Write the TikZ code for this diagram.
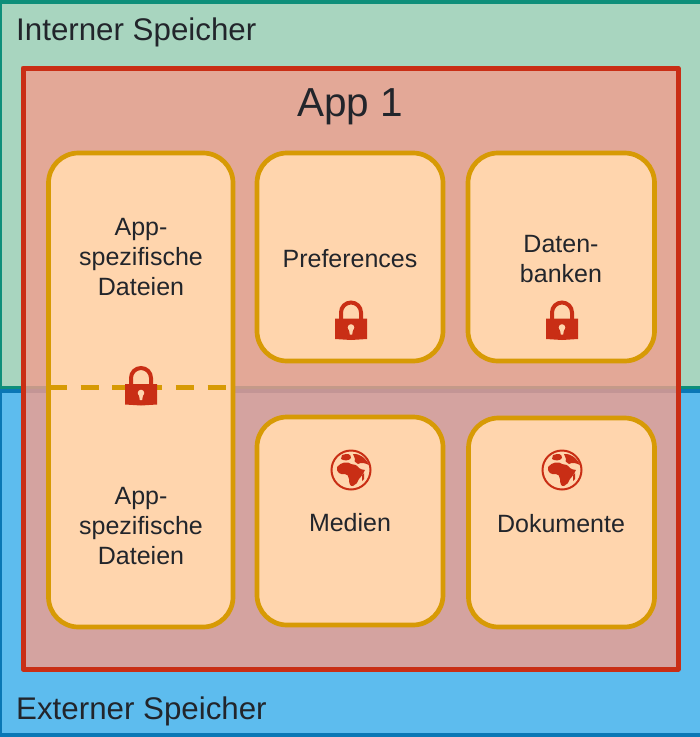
\documentclass[tikz,border=0pt]{standalone}
\usepackage{fontspec}
\setmainfont{Liberation Sans}
\definecolor{gfill}{HTML}{A8D5BF}
\definecolor{gline}{HTML}{0E8F7A}
\definecolor{bfill}{HTML}{5DBCEE}
\definecolor{bline}{HTML}{0A77B5}
\definecolor{rline}{HTML}{C92E15}
\definecolor{rfill}{HTML}{F29D8D}
\definecolor{ofill}{HTML}{FFD5AD}
\definecolor{oline}{HTML}{D79A05}
\definecolor{txt}{HTML}{22252B}
\tikzset{
 x=1pt,y=-1pt,
 area/.style={line width=3.5pt},
 appfill/.style={fill=rfill,fill opacity=0.8},
 appline/.style={draw=rline,line width=5pt,line join=round},
 card/.style={draw=oline,fill=ofill,line width=4.7pt,rounded corners=30pt},
 lbl/.style={text=txt,align=center,inner sep=0pt},
 cardtxt/.style={text=txt,font=\fontsize{25}{30}\selectfont,align=center,inner sep=0pt},
 lockp/.pic={
  \draw[rline,line width=4pt] (-10,5) -- (-10,-8) arc[start angle=180,end angle=360,radius=10] -- (10,5);
  \fill[rline] (-16,-2) -- (16,-2) -- (16,18.5) -- (0,19.5) -- (-16,18.5) -- cycle;
  \fill[ofill] (0,7) circle[radius=3.3];
  \fill[ofill] (-2.2,8) -- (2.2,8) -- (1.2,14) -- (-1.2,14) -- cycle;
 },
 globep/.pic={
  \draw[rline,line width=2pt] (0,0) circle[radius=19.5];
  \fill[rline] (-14,-3) .. controls (-10,-8) and (-3,-9) .. (0,-6)
    .. controls (3,-6) and (6,-5) .. (8,-2) .. controls (10,0) and (11,-1) .. (14,0)
    .. controls (12,4) and (10,7) .. (8,9) .. controls (7,12) and (5,15) .. (2,16)
    .. controls (-1,17) and (-2,13) .. (-2,9) .. controls (-3,6) and (-3,4) .. (-6,4)
    .. controls (-10,5) and (-15,3) .. (-14,-3) -- cycle;
  \fill[rline] (-9,-15) .. controls (-3,-17) and (0,-16) .. (0,-12) .. controls (-2,-9) and (-7,-9) .. (-10,-11) -- cycle;
  \fill[rline] (2,-16) .. controls (8,-17) and (15,-12) .. (18,-5) .. controls (14,-7) and (10,-8) .. (7,-6)
    .. controls (4,-8) and (2,-10) .. (4,-11) -- cycle;
  \fill[rline] (11,5) -- (13,3) -- (13,9) -- (11,11) -- cycle;
 }
}
\begin{document}
\begin{tikzpicture}
\useasboundingbox[clip] (0,0) rectangle (700,737);
\path[area,fill=bfill,draw=bline] (0,391) rectangle (702,735);
\path[area,fill=gfill,draw=gline] (0,2) rectangle (702,387.5);
\node[lbl,anchor=base west,font=\fontsize{31.3}{34}\selectfont] (intern) at (16,40.5) {Interner Speicher};
\node[lbl,anchor=base west,font=\fontsize{31.3}{34}\selectfont] (extern) at (16,719.5) {Externer Speicher};
\path[appfill] (23,68) rectangle (678,669);
\path[appline] (23,68) rectangle (678,669);
\node[lbl,anchor=base,font=\fontsize{40.5}{44}\selectfont] (app) at (350,116.5) {App 1};
\path[card] (48.5,153) rectangle (233,627);
\path[card] (257,153) rectangle (443,361);
\path[card] (468,153) rectangle (654.5,361);
\path[card] (257,417) rectangle (443,625);
\path[card] (468.5,418) rectangle (654.5,627);
\draw[draw=oline,line width=4.5pt,dash pattern=on 18pt off 13.7pt] (49,387.7) -- (231,387.7);
\node[cardtxt] (a1) at (141,257) {App-\\spezifische\\Dateien};
\node[cardtxt] (a2) at (141,526) {App-\\spezifische\\Dateien};
\node[cardtxt] (pref) at (350,258.5) {Preferences};
\node[cardtxt] (db) at (561,259) {Daten-\\banken};
\node[cardtxt] (med) at (350,522.5) {Medien};
\node[cardtxt] (dok) at (561,523.5) {Dokumente};
\pic at (141,386) {lockp};
\pic at (351,320.5) {lockp};
\pic at (562,320.5) {lockp};
\pic at (351,470) {globep};
\pic at (562,470) {globep};
\end{tikzpicture}
\end{document}
